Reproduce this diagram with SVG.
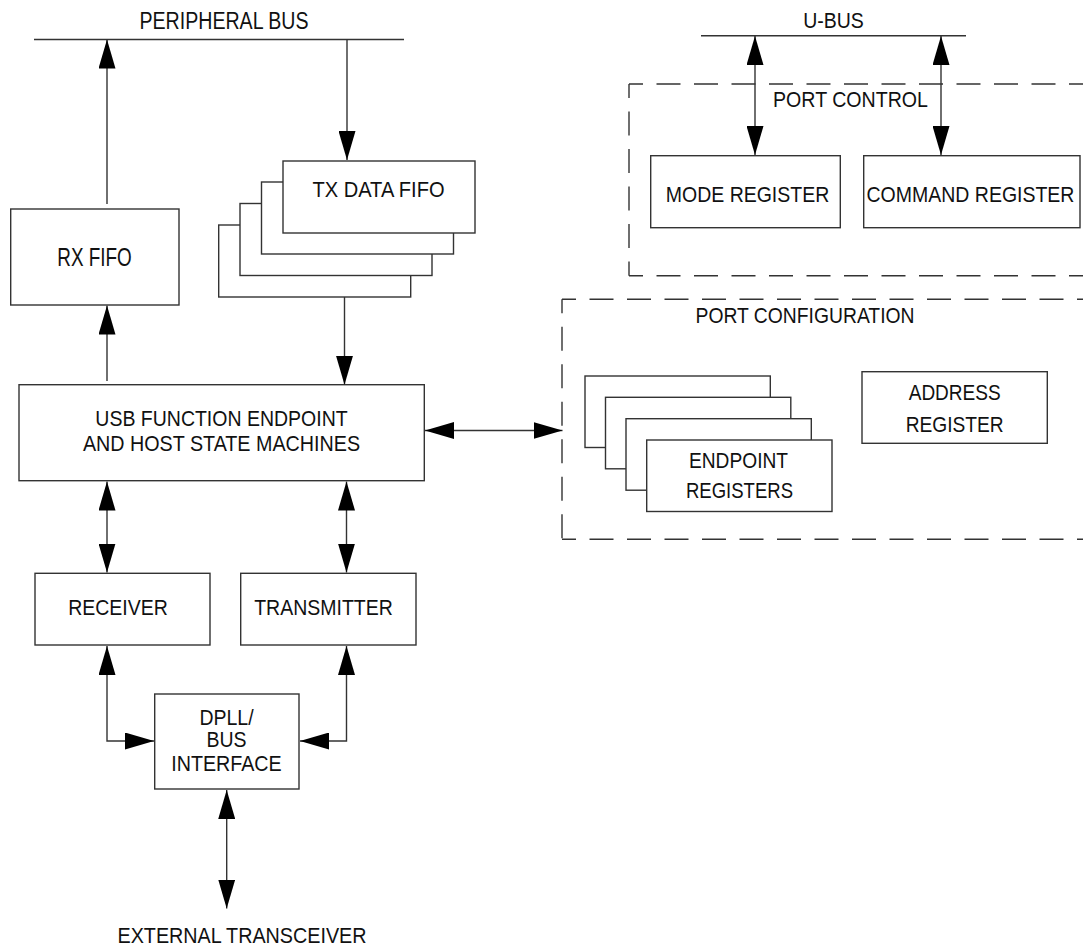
<svg xmlns="http://www.w3.org/2000/svg" width="1083" height="947" viewBox="0 0 1083 947">
<style>
.b{fill:#fff;stroke:#333;stroke-width:1.4}
.d{fill:none;stroke:#333;stroke-width:1.4;stroke-dasharray:24 13.5;stroke-dashoffset:10}
.c{fill:none;stroke:#333;stroke-width:1.4}
.t{font-family:"Liberation Sans",Arial,sans-serif;font-size:22px;fill:#111;text-anchor:middle}
</style>
<defs>
<marker id="ah" viewBox="0 0 29 17" refX="29" refY="8.5" markerWidth="29" markerHeight="17" markerUnits="userSpaceOnUse" orient="auto-start-reverse">
<path d="M0,0 L29,8.5 L0,17 z" fill="#000"/>
</marker>
</defs>
<rect width="1083" height="947" fill="#fff"/>

<g id="peripheral-bus">
<line class="c" x1="34" y1="39.5" x2="404" y2="39.5"/>
<text class="t" x="224" y="29" style="font-size:23.5px" textLength="169" lengthAdjust="spacingAndGlyphs">PERIPHERAL BUS</text>
</g>
<g id="u-bus">
<line class="c" x1="701" y1="35.7" x2="966" y2="35.7"/>
<text class="t" x="833.5" y="27.5" textLength="60.6" lengthAdjust="spacingAndGlyphs">U-BUS</text>
</g>

<g id="port-control">
<path class="d" d="M629,84 H1083"/>
<path class="d" d="M629,84 V275.7"/>
<path class="d" d="M629,275.7 H1083"/>
<text class="t" x="850.5" y="107" textLength="154.9" lengthAdjust="spacingAndGlyphs">PORT CONTROL</text>
</g>
<g id="mode-register">
<rect class="b" x="650.7" y="155.7" width="189.6" height="72"/>
<text class="t" x="747.5" y="202" textLength="163.5" lengthAdjust="spacingAndGlyphs">MODE REGISTER</text>
</g>
<g id="command-register">
<rect class="b" x="863.7" y="155.7" width="216.3" height="72"/>
<text class="t" x="970.5" y="202" textLength="207.9" lengthAdjust="spacingAndGlyphs">COMMAND REGISTER</text>
</g>

<g id="port-configuration">
<path class="d" d="M562,299.3 H1083"/>
<path class="d" d="M562,299.3 V539.3"/>
<path class="d" d="M562,539.3 H1083"/>
<text class="t" x="805" y="323" textLength="219" lengthAdjust="spacingAndGlyphs">PORT CONFIGURATION</text>
</g>
<g id="endpoint-registers">
<rect class="b" x="585" y="376" width="185.3" height="71.5"/>
<rect class="b" x="605.5" y="397.3" width="185.3" height="71.5"/>
<rect class="b" x="626" y="418.7" width="185.3" height="71.5"/>
<rect class="b" x="646.7" y="440" width="185.3" height="71.5"/>
<text class="t" x="738.5" y="467.7" textLength="99" lengthAdjust="spacingAndGlyphs">ENDPOINT</text>
<text class="t" x="739.5" y="498.3" textLength="107" lengthAdjust="spacingAndGlyphs">REGISTERS</text>
</g>
<g id="address-register">
<rect class="b" x="862" y="371.7" width="185.3" height="71.6"/>
<text class="t" x="954.7" y="400" textLength="92" lengthAdjust="spacingAndGlyphs">ADDRESS</text>
<text class="t" x="954.7" y="431.7" textLength="98" lengthAdjust="spacingAndGlyphs">REGISTER</text>
</g>

<g id="rx-fifo">
<rect class="b" x="10.7" y="209" width="168.3" height="96"/>
<text class="t" x="94.5" y="265.5" style="font-size:25px" textLength="74.5" lengthAdjust="spacingAndGlyphs">RX FIFO</text>
</g>
<g id="tx-data-fifo">
<rect class="b" x="218.7" y="225" width="192" height="72"/>
<rect class="b" x="240" y="203.5" width="192" height="72"/>
<rect class="b" x="261.5" y="182" width="192" height="72"/>
<rect class="b" x="283" y="161" width="192" height="72"/>
<text class="t" x="378.5" y="197" style="font-size:22.5px" textLength="132.1" lengthAdjust="spacingAndGlyphs">TX DATA FIFO</text>
</g>

<g id="usb-state-machines">
<rect class="b" x="19" y="384.7" width="405.3" height="96"/>
<text class="t" x="221.5" y="426" textLength="252.3" lengthAdjust="spacingAndGlyphs">USB FUNCTION ENDPOINT</text>
<text class="t" x="221.5" y="450.5" textLength="277.2" lengthAdjust="spacingAndGlyphs">AND HOST STATE MACHINES</text>
</g>
<g id="receiver">
<rect class="b" x="35" y="573.3" width="175" height="71.7"/>
<text class="t" x="118" y="615" textLength="99.6" lengthAdjust="spacingAndGlyphs">RECEIVER</text>
</g>
<g id="transmitter">
<rect class="b" x="240.7" y="573.3" width="175.3" height="71.7"/>
<text class="t" x="323.5" y="615" textLength="138.6" lengthAdjust="spacingAndGlyphs">TRANSMITTER</text>
</g>
<g id="dpll-bus-interface">
<rect class="b" x="154.7" y="694" width="144.3" height="95"/>
<text class="t" x="226.5" y="725" textLength="54.2" lengthAdjust="spacingAndGlyphs">DPLL/</text>
<text class="t" x="226.5" y="746.7" textLength="40.1" lengthAdjust="spacingAndGlyphs">BUS</text>
<text class="t" x="226.5" y="770.7" textLength="110.4" lengthAdjust="spacingAndGlyphs">INTERFACE</text>
</g>
<g id="external-transceiver">
<text class="t" x="242" y="943" textLength="249" lengthAdjust="spacingAndGlyphs">EXTERNAL TRANSCEIVER</text>
</g>

<g id="connectors">
<line class="c" x1="107" y1="204" x2="107" y2="39.5" marker-end="url(#ah)"/>
<line class="c" x1="347" y1="39.5" x2="347" y2="160" marker-end="url(#ah)"/>
<line class="c" x1="344.5" y1="297" x2="344.5" y2="384.7" marker-end="url(#ah)"/>
<line class="c" x1="107" y1="381" x2="107" y2="305.5" marker-end="url(#ah)"/>
<line class="c" x1="425" y1="430.5" x2="562.5" y2="430.5" marker-start="url(#ah)" marker-end="url(#ah)"/>
<line class="c" x1="107" y1="481.5" x2="107" y2="572.5" marker-start="url(#ah)" marker-end="url(#ah)"/>
<line class="c" x1="346.5" y1="481.5" x2="346.5" y2="572.5" marker-start="url(#ah)" marker-end="url(#ah)"/>
<path class="c" d="M107,646 V741 H154" marker-start="url(#ah)" marker-end="url(#ah)"/>
<path class="c" d="M346.5,646 V741 H300" marker-start="url(#ah)" marker-end="url(#ah)"/>
<line class="c" x1="226.7" y1="790" x2="226.7" y2="908.5" marker-start="url(#ah)" marker-end="url(#ah)"/>
<line class="c" x1="755" y1="36" x2="755" y2="155" marker-start="url(#ah)" marker-end="url(#ah)"/>
<line class="c" x1="941" y1="36" x2="941" y2="155" marker-start="url(#ah)" marker-end="url(#ah)"/>
</g>
</svg>
